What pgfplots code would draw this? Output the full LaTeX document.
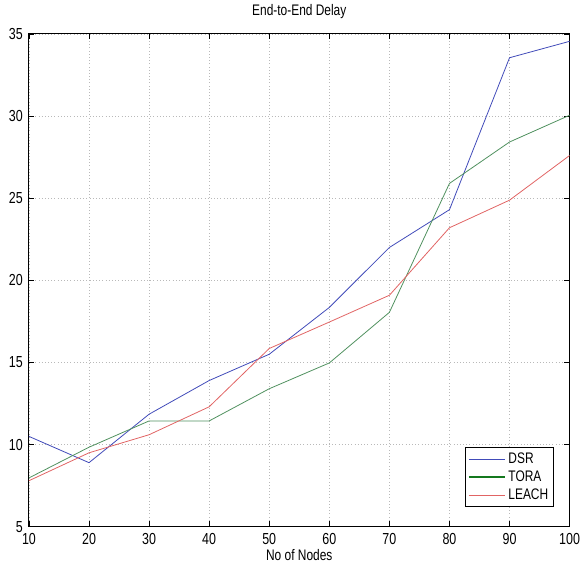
\documentclass[border=0pt]{standalone}
\usepackage{fontspec}
\setmainfont[FakeStretch=0.78]{Liberation Sans}
\usepackage{pgfplots}
\pgfplotsset{compat=1.18}

\definecolor{dsrblue}{RGB}{65,75,185}
\definecolor{toragreen}{RGB}{80,145,95}
\definecolor{leachred}{RGB}{225,100,100}
\definecolor{legendgreen}{RGB}{20,120,30}

\begin{document}
\begin{tikzpicture}
\begin{axis}[
    scale only axis,
    width=406.5pt, height=370.5pt,
    xmin=10, xmax=100, ymin=5, ymax=35,
    xtick={10,20,...,100},
    ytick={5,10,...,35},
    tick align=inside,
    major tick length=4pt,
    axis line style={black, line width=0.7pt},
    every tick/.style={black, line width=0.6pt},
    grid=major,
    grid style={gray!55, dotted, line width=0.5pt},
    font=\fontsize{11.5}{13}\selectfont,
    ticklabel style={font=\fontsize{12}{13}\selectfont},
    /pgf/number format/assume math mode=true,
    xticklabel style={inner sep=0pt, yshift=-4.5pt},
    yticklabel style={inner sep=0pt, xshift=-4.5pt},
    title={End-to-End Delay},
    title style={at={(0.5,1)}, anchor=base, inner sep=0pt, yshift=7.5pt,
        font=\fontsize{11.5}{13}\selectfont},
    xlabel={No of Nodes},
    xlabel style={at={(0.5,0)}, anchor=north, inner sep=0pt, yshift=-16.5pt,
        font=\fontsize{11.5}{13}\selectfont},
    legend style={at={(0.971,0.04)}, anchor=south east, draw=black,
        line width=0.6pt, font=\fontsize{11.5}{13}\selectfont,
        row sep=0pt, inner sep=2pt, cells={anchor=west}},
    legend image code/.code={\draw[#1] (0pt,0pt) -- (27pt,0pt);},
    every axis plot/.append style={line width=0.6pt},
]
\addplot[color=dsrblue] coordinates {
    (10,10.5) (20,8.9) (30,11.85) (40,13.9) (50,15.5)
    (60,18.35) (70,22.0) (80,24.3) (90,33.55) (100,34.55)
};
\addlegendentry{DSR}
\addplot[color=toragreen,
    legend image code/.code={\draw[legendgreen, line width=1.6pt] (0pt,0pt) -- (27pt,0pt);}] coordinates {
    (10,7.97) (20,9.84) (30,11.44) (40,11.44) (50,13.4)
    (60,14.97) (70,18.05) (80,25.9) (90,28.42) (100,30.05)
};
\addlegendentry{TORA}
\addplot[color=leachred] coordinates {
    (10,7.8) (20,9.5) (30,10.6) (40,12.3) (50,15.85)
    (60,17.46) (70,19.09) (80,23.2) (90,24.88) (100,27.6)
};
\addlegendentry{LEACH}
\end{axis}
\path (current axis.south west) ++(-21.75pt,-31.5pt)
      rectangle ([xshift=6.75pt,yshift=25.5pt]current axis.north east);
\end{tikzpicture}
\end{document}
